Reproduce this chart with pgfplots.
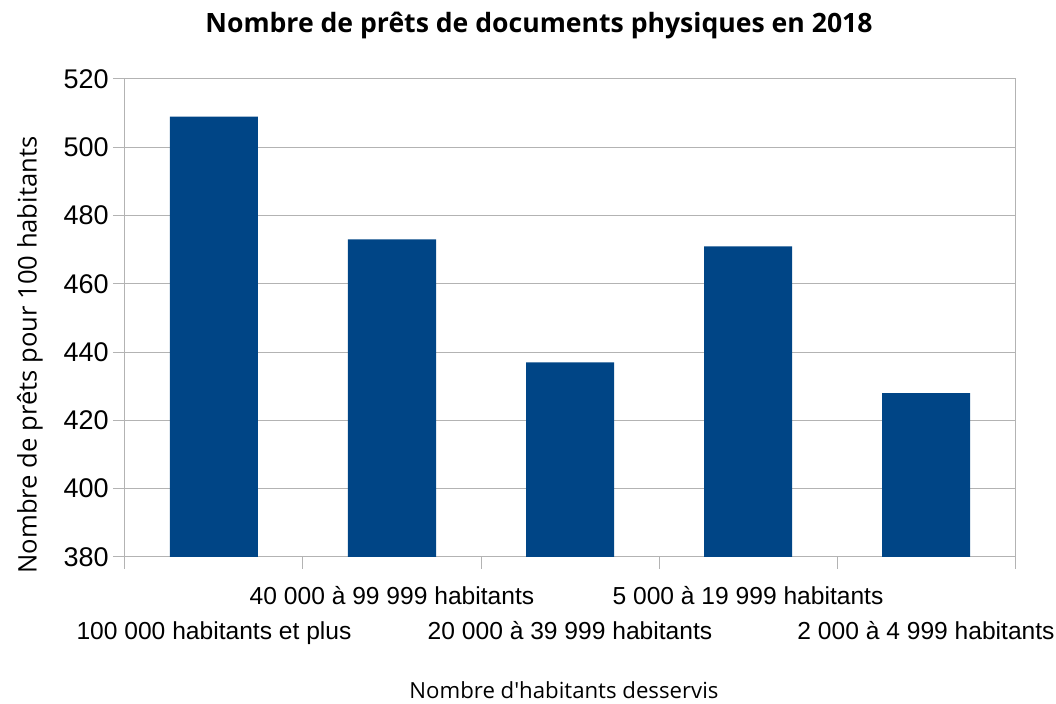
\documentclass[border=0pt]{standalone}
\usepackage{fontspec}
\setmainfont{Liberation Sans}
\newfontfamily\opensans{Open Sans}
\usepackage{pgfplots}
\pgfplotsset{compat=1.18}
\definecolor{barblue}{HTML}{004586}
\definecolor{gridgray}{HTML}{B3B3B3}
\begin{document}
\begin{tikzpicture}
\path[use as bounding box] (-62.5pt,-73.5pt) rectangle (465.5pt,278.5pt);
\begin{axis}[
  at={(0,0)}, anchor=south west,
  scale only axis, width=445pt, height=239pt,
  ymin=380, ymax=520, xmin=-0.5, xmax=4.5,
  ytick={380,400,...,520}, minor ytick={380,400,...,520},
  xtick={1,3},
  xticklabels={40 000 à 99 999 habitants, 5 000 à 19 999 habitants},
  extra x ticks={0,2,4},
  extra x tick labels={100 000 habitants et plus, 20 000 à 39 999 habitants, 2 000 à 4 999 habitants},
  extra x tick style={xticklabel style={yshift=-17.5pt}},
  minor xtick={-0.5,0.5,...,4.5},
  major tick length=0pt, minor tick length=6pt,
  tick align=outside, tick pos=left,
  axis line style={gridgray, line width=0.5pt},
  tick style={gridgray, line width=0.5pt},
  ymajorgrids, grid style={gridgray, line width=0.5pt},
  /pgf/number format/assume math mode=true,
  yticklabel style={font=\fontsize{13.5}{16}\selectfont, anchor=east, inner sep=0pt, xshift=-8pt},
  xticklabel style={font=\fontsize{12.3}{15}\selectfont, anchor=base, inner sep=0pt, yshift=-24pt},
  ybar, bar width=44pt,
]
\addplot[fill=barblue, draw=none] coordinates {(0,509) (1,473) (2,437) (3,471) (4,428)};
\end{axis}
\node[anchor=base, font=\opensans\bfseries\fontsize{13.3}{16}\selectfont] at (207pt,262pt) {Nombre de prêts de documents physiques en 2018};
\node[rotate=90, font=\opensans\fontsize{12.8}{15}\selectfont] at (-47.5pt,101pt) {Nombre de prêts pour 100 habitants};
\node[font=\opensans\fontsize{11.1}{13}\selectfont] at (219.5pt,-66.5pt) {Nombre d'habitants desservis};
\end{tikzpicture}
\end{document}
